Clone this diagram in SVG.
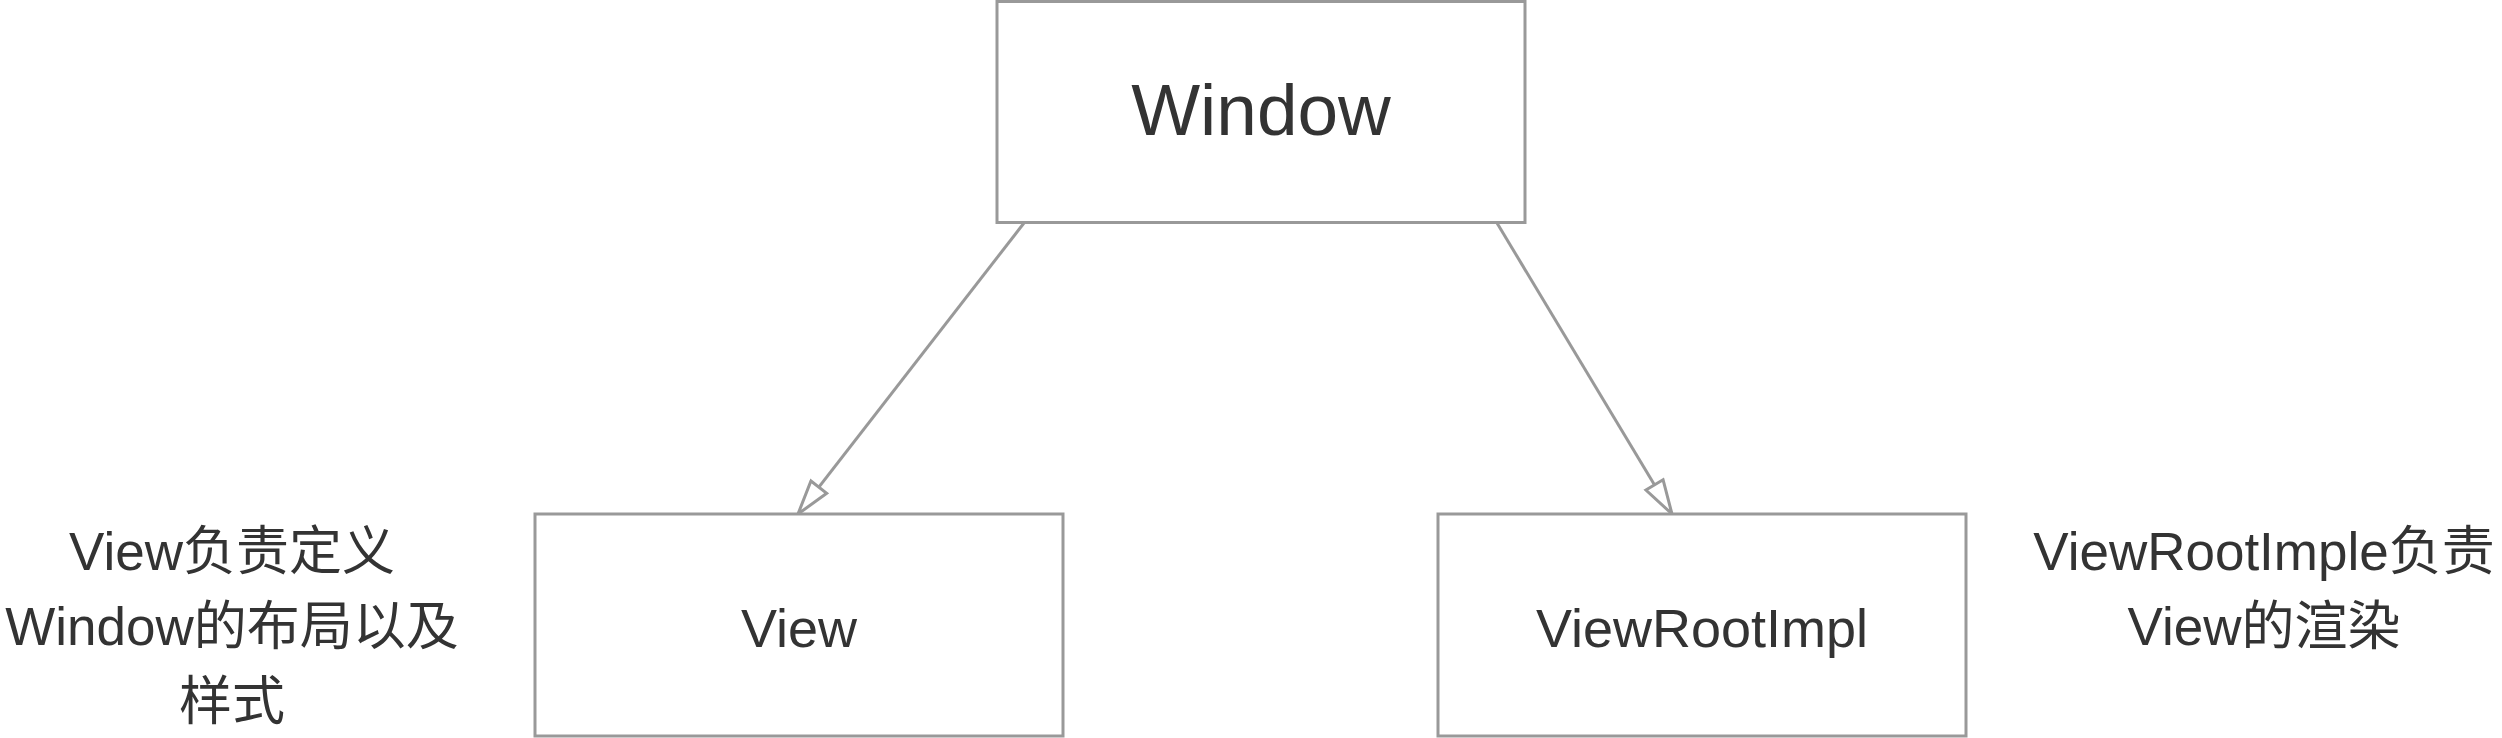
<svg xmlns="http://www.w3.org/2000/svg" width="2502" height="738" viewBox="0 0 2502 738">
<style>
.box{fill:#fff;stroke:#999;stroke-width:3}
.lbl{font-family:"Liberation Sans","Noto Sans CJK SC",sans-serif;fill:#333;text-anchor:middle}
.edge{stroke:#999;stroke-width:3;fill:none}
</style>
<defs>
<marker id="open" viewBox="0 0 38 24" markerWidth="38" markerHeight="24" refX="36" refY="12" orient="auto" markerUnits="userSpaceOnUse">
<path d="M2,2 L36,12 L2,22 Z" fill="#fff" stroke="#999" stroke-width="3"/>
</marker>
</defs>
<rect width="2502" height="738" fill="#fff"/>
<g id="connectors">
<line class="edge" x1="1024" y1="223" x2="798" y2="514" marker-end="url(#open)"/>
<line class="edge" x1="1497" y1="223" x2="1672" y2="514" marker-end="url(#open)"/>
</g>
<g id="window">
<rect class="box" x="997" y="1.5" width="528" height="221"/>
<text class="lbl" x="1261" y="135" font-size="73">Window</text>
</g>
<g id="view">
<rect class="box" x="535" y="514" width="528" height="222"/>
<text class="lbl" x="799" y="647" font-size="54">View</text>
</g>
<g id="viewrootimpl">
<rect class="box" x="1438" y="514" width="528" height="222"/>
<text class="lbl" x="1702" y="647" font-size="54">ViewRootImpl</text>
</g>
<g id="note-view">
<text class="lbl" font-size="53"><tspan x="232" y="570">View负责定义</tspan><tspan x="232" y="645">Window的布局以及</tspan><tspan x="232" y="720">样式</tspan></text>
</g>
<g id="note-viewrootimpl">
<text class="lbl" font-size="53"><tspan x="2264" y="570">ViewRootImple负责</tspan><tspan x="2264" y="645">View的渲染</tspan></text>
</g>
</svg>
